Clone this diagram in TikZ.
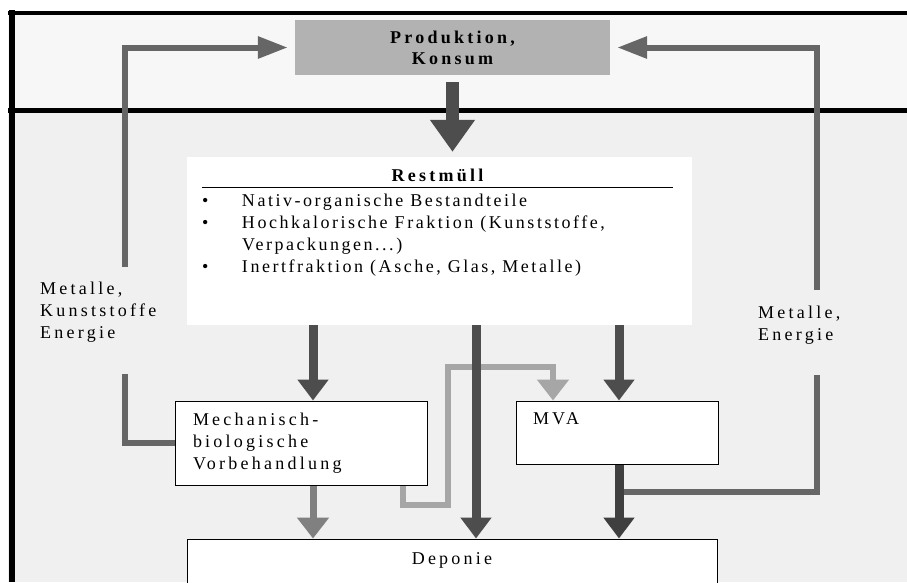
\documentclass[tikz,border=0pt]{standalone}
\usepackage{fontspec}
\setmainfont{Liberation Serif}[LetterSpace=18]
\usepackage{tikz}
\usetikzlibrary{arrows.meta, positioning}
\definecolor{topbg}{HTML}{F7F7F7}
\definecolor{lowbg}{HTML}{F0F0F0}
\definecolor{prodgray}{HTML}{B2B2B2}
\definecolor{flowdark}{HTML}{4D4D4D}
\definecolor{flowdeep}{HTML}{3F3F3F}
\definecolor{flowmid}{HTML}{666666}
\definecolor{flowsoft}{HTML}{808080}
\definecolor{flowpale}{HTML}{A6A6A6}
\tikzstyle{prodbox} = [rectangle, fill=prodgray, minimum width=315pt, minimum height=55pt, align=center, font=\fontsize{18}{21}\selectfont\bfseries]
\tikzstyle{wastebox} = [rectangle, fill=white, minimum width=505pt, minimum height=168pt]
\tikzstyle{plant} = [rectangle, draw=black, line width=1pt, fill=white, align=left, inner xsep=17pt]
\tikzstyle{flowtext} = [align=left, anchor=base west, inner sep=0pt]
\tikzstyle{bigarr} = [-{Triangle[width=43pt, length=32pt]}, line width=13pt, flowdark]
\tikzstyle{arr} = [-{Triangle[width=30pt, length=21pt]}, line width=9pt, flowdark]
\tikzstyle{deeparr} = [-{Triangle[width=30pt, length=21pt]}, line width=9pt, flowdeep]
\tikzstyle{softarr} = [-{Triangle[width=31pt, length=21pt]}, line width=7pt, flowsoft]
\tikzstyle{palearr} = [-{Triangle[width=31pt, length=21pt]}, line width=6pt, flowpale]
\tikzstyle{backline} = [line width=6pt, flowmid]
\tikzstyle{backarr} = [-{Triangle[width=21pt, length=30pt]}, line width=6pt, flowmid, shorten >=7pt]

\begin{document}
\begin{tikzpicture}[x=1pt, y=-1pt, font=\fontsize{18}{22}\selectfont]
  \clip (0,0) rectangle (907,582);
  % bands and frame
  \fill[white] (0,0) rectangle (907,582);
  \fill[topbg] (8,11) rectangle (907,110);
  \fill[lowbg] (8,110) rectangle (907,582);
  \draw[line width=4pt] (8,13) -- (907,13);
  \draw[line width=5pt] (8,110) -- (907,110);
  \draw[line width=6pt] (11.5,10) -- (11.5,582);
  % Top band
  \node[prodbox] (prod) at (452.5,47.5) {Produktion,\\Konsum};
  % Restmuell
  \node[wastebox] (rest) at (439.5,241) {};
  \node[anchor=base, text width=471pt, align=center, inner xsep=0pt, inner ysep=0pt, text depth=6pt, font=\fontsize{18}{22}\selectfont\bfseries] (resttitle) at (437.5,181) {Restmüll};
  \draw[line width=0.8pt] (resttitle.south west) -- (resttitle.south east);
  \node[below=4pt of resttitle.south west, anchor=north west, inner sep=0pt] (restlist) {%
    \addfontfeatures{LetterSpace=14}\def\arraystretch{1.0}%
    \begin{tabular}{@{}p{40pt}@{}l@{}}
      \textbullet & Nativ-organische Bestandteile\\
      \textbullet & Hochkalorische Fraktion (Kunststoffe,\\
                  & Verpackungen...)\\
      \textbullet & Inertfraktion (Asche, Glas, Metalle)
    \end{tabular}};
  % Plants
  \node[plant, text width=216pt, minimum width=252pt, minimum height=84pt] (mbv) at (301,443) {Mechanisch-\\biologische\\Vorbehandlung};
  \node[plant, text width=168pt, minimum width=202pt, text height=19pt, text depth=36pt, inner ysep=4pt, right=88pt of mbv.north east, anchor=north west] (mva) {MVA};
  \node[plant, minimum width=530pt, minimum height=50pt, text height=12pt, text depth=12pt, align=center] (dep) at (452,564) {Deponie};
  % side labels
  \node[flowtext] (lefttxt) at (40,338) {Metalle,\\Kunststoffe\\Energie};
  \node[flowtext] (righttxt) at (758,340) {Metalle,\\Energie};
  \coordinate (lgapup) at (125,267);
  \coordinate (lgaplow) at (125,374);
  \coordinate (rgapup) at (817,290);
  \coordinate (rgaplow) at (817,375);
  \coordinate (rjoin) at (619,492);
  \coordinate (paleup) at (448,367);
  \coordinate (colA) at (313,0);
  \coordinate (colB) at (476,0);
  \coordinate (colC) at (619,0);
  % feedback loops
  \draw[backline] (mbv.west) -| (lgaplow);
  \draw[backarr] (lgapup) |- (prod.west);
  \draw[backline] (rjoin) -| (rgaplow);
  \draw[backarr] (rgapup) |- (prod.east);
  % flows
  \draw[palearr] ([xshift=-25pt]mbv.south east) -- ++(0,19) -| (paleup) -| ([xshift=-64pt]mva.north);
  \draw[bigarr, shorten <=7pt, shorten >=5pt] (prod.south) -- (prod.south |- rest.north);
  \draw[arr] (rest.south -| colA) -- (mbv.north -| colA);
  \draw[arr] (rest.south -| colB) -- (dep.north -| colB);
  \draw[arr] (rest.south -| colC) -- (mva.north -| colC);
  \draw[softarr] (mbv.south -| colA) -- (dep.north -| colA);
  \draw[deeparr] (mva.south -| colC) -- (dep.north -| colC);
\end{tikzpicture}
\end{document}
